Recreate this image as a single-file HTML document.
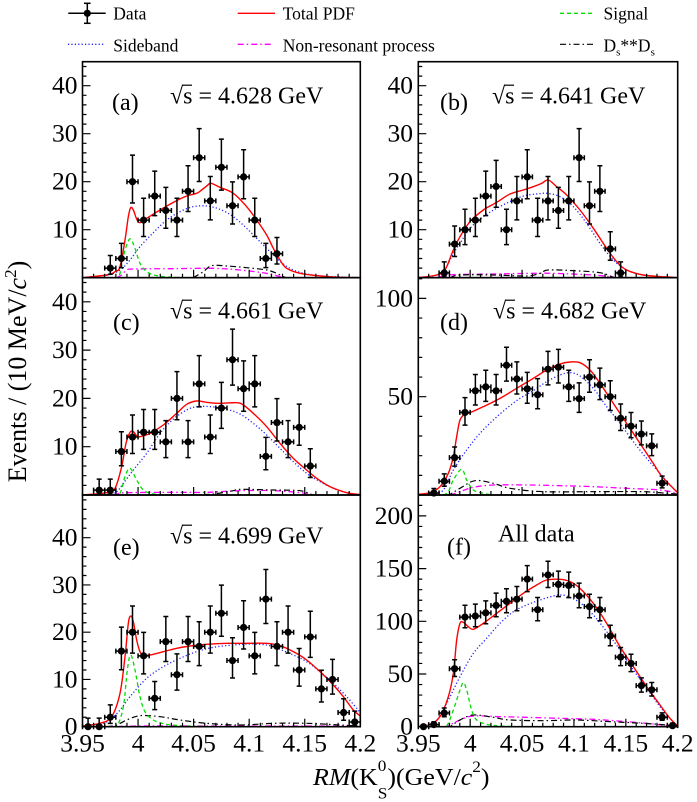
<!DOCTYPE html>
<html><head><meta charset="utf-8">
<style>
html,body{margin:0;padding:0;background:#fff;}
svg{display:block;}
text{font-family:"Liberation Serif","DejaVu Serif",serif;fill:#000;}
</style></head>
<body>
<svg id="s" xmlns="http://www.w3.org/2000/svg" width="697" height="802" viewBox="0 0 697 802">
<rect x="0" y="0" width="697" height="802" fill="#fff"/>
<defs id="defs"></defs>
<g id="g"></g>

<g stroke-width="1.5">
  <line x1="68.3" y1="13.3" x2="105.7" y2="13.3" stroke="#000"/>
  <line x1="87.3" y1="3.3" x2="87.3" y2="23.3" stroke="#000"/>
  <line x1="84" y1="3.3" x2="90.6" y2="3.3" stroke="#000"/>
  <line x1="84" y1="23.3" x2="90.6" y2="23.3" stroke="#000"/>
  <circle cx="87.3" cy="13.3" r="3.6" fill="#000" stroke="none"/>
  <line x1="237.7" y1="13.3" x2="275" y2="13.3" stroke="#ff0000" stroke-width="1.3"/>
  <line x1="560" y1="13.3" x2="594" y2="13.3" stroke="#00dd00" stroke-width="1.3" stroke-dasharray="4 3"/>
  <line x1="68" y1="44.3" x2="103.3" y2="44.3" stroke="#2020ff" stroke-width="1.3" stroke-dasharray="1.2 2.2"/>
  <line x1="237.7" y1="44.3" x2="273.3" y2="44.3" stroke="#ff00ff" stroke-width="1.3" stroke-dasharray="6 3 1.5 3"/>
  <line x1="560" y1="44.3" x2="595" y2="44.3" stroke="#000" stroke-width="1.2" stroke-dasharray="6 3 1.5 3"/>
</g>
<text x="113.3" y="19.5" font-size="17.5">Data</text>
<text x="282.7" y="19.5" font-size="17.5">Total PDF</text>
<text x="603.5" y="19.5" font-size="17.5">Signal</text>
<text x="113.3" y="51.5" font-size="17.5">Sideband</text>
<text x="282.7" y="51.5" font-size="17.5">Non-resonant process</text>
<text x="603.5" y="51.5" font-size="17.5">D<tspan font-size="11" dy="4">s</tspan><tspan dy="-4">**D</tspan><tspan font-size="11" dy="4">s</tspan></text>

<g font-size="25.5" text-anchor="end">
  <text x="77.5" y="237.7">10</text><text x="77.5" y="189.7">20</text><text x="77.5" y="141.7">30</text><text x="77.5" y="93.7">40</text>
  <text x="413" y="237.7">10</text><text x="413" y="189.7">20</text><text x="413" y="141.7">30</text><text x="413" y="93.7">40</text>
  <text x="77.5" y="454.7">10</text><text x="77.5" y="406.4">20</text><text x="77.5" y="358.1">30</text><text x="77.5" y="309.8">40</text>
  <text x="413" y="404.7">50</text><text x="413" y="306.4">100</text>
  <text x="77.5" y="734.7">0</text><text x="77.5" y="687.5">10</text><text x="77.5" y="640.2">20</text><text x="77.5" y="593">30</text><text x="77.5" y="545.7">40</text>
  <text x="413" y="734.7">0</text><text x="413" y="682">50</text><text x="413" y="629.3">100</text><text x="413" y="576.6">150</text><text x="413" y="523.9">200</text>
</g>

<g font-size="25.5" text-anchor="middle">
  <text x="82.5" y="751.5">3.95</text><text x="138.1" y="751.5">4</text><text x="193.6" y="751.5">4.05</text><text x="249.2" y="751.5">4.1</text><text x="304.7" y="751.5">4.15</text><text x="360.3" y="751.5">4.2</text>
  <text x="418.3" y="751.5">3.95</text><text x="470.2" y="751.5">4</text><text x="522.1" y="751.5">4.05</text><text x="573.9" y="751.5">4.1</text><text x="625.8" y="751.5">4.15</text><text x="677.7" y="751.5">4.2</text>
</g>

<g font-size="24">
  <text x="112" y="110">(a)</text>
  <text x="170" y="103.3">√s = 4.628 GeV</text>
  <text x="440" y="110">(b)</text>
  <text x="492" y="103.3">√s = 4.641 GeV</text>
  <text x="113" y="330">(c)</text>
  <text x="170" y="318.3">√s = 4.661 GeV</text>
  <text x="440" y="330">(d)</text>
  <text x="493" y="318.3">√s = 4.682 GeV</text>
  <text x="113" y="555">(e)</text>
  <text x="170" y="543.3">√s = 4.699 GeV</text>
  <text x="447" y="554.3">(f)</text>
  <text x="498" y="541.7">All data</text>
</g>
<g stroke="#000" stroke-width="1.2">
  <line x1="182" y1="85.2" x2="192" y2="85.2"/>
  <line x1="504" y1="85.2" x2="514" y2="85.2"/>
  <line x1="182" y1="300.2" x2="192" y2="300.2"/>
  <line x1="505" y1="300.2" x2="515" y2="300.2"/>
  <line x1="182" y1="525.2" x2="192" y2="525.2"/>
</g>

<text transform="translate(26,371.5) rotate(-90)" text-anchor="middle" font-size="26">Events / (10 MeV/<tspan font-style="italic">c</tspan><tspan font-size="17" dy="-10">2</tspan><tspan dy="10">)</tspan></text>
<text transform="translate(313,785) scale(1.08,1)" x="0" y="0" font-size="24"><tspan font-style="italic">RM</tspan>(K<tspan font-size="16" dy="-14">0</tspan><tspan font-size="16" dx="-8" dy="27.5">S</tspan><tspan dy="-13.5">)(GeV/</tspan><tspan font-style="italic">c</tspan><tspan font-size="16" dy="-13">2</tspan><tspan dy="13">)</tspan></text>
</svg>

<script>
(function(){
var NS='http://www.w3.org/2000/svg';
var g=document.getElementById('g');
var defs=document.getElementById('defs');
function mk(parent,tag,attrs){var e=document.createElementNS(NS,tag);for(var k in attrs){e.setAttribute(k,attrs[k]);}parent.appendChild(e);return e;}
var L={x0:82.5,x1:360.3}, R={x0:418.3,x1:677.7};
var rows=[[61.7,277.7],[277.7,495],[495,726.7]];
function up(n){var m=n+1;return m*Math.pow(1-1/(9*m)+1/(3*Math.sqrt(m)),3)-n;}
function lo(n){if(n<=0)return 0;return n-n*Math.pow(1-1/(9*n)-1/(3*Math.sqrt(n)),3);}
function f(v){return v.toFixed(2);}
function cr(p){
  var s='M'+f(p[0][0])+','+f(p[0][1]);
  for(var i=0;i<p.length-1;i++){
    var p0=p[i-1]||p[i],p1=p[i],p2=p[i+1],p3=p[i+2]||p[i+1];
    var c1x=p1[0]+(p2[0]-p0[0])/6,c1y=p1[1]+(p2[1]-p0[1])/6;
    var c2x=p2[0]-(p3[0]-p1[0])/6,c2y=p2[1]-(p3[1]-p1[1])/6;
    s+='C'+f(c1x)+','+f(c1y)+' '+f(c2x)+','+f(c2y)+' '+f(p2[0])+','+f(p2[1]);
  }
  return s;
}
var styles={
  green:{stroke:'#00dd00','stroke-width':'1.3','stroke-dasharray':'4 3'},
  mag:{stroke:'#ff00ff','stroke-width':'1.3','stroke-dasharray':'6 3 1.5 3'},
  blk:{stroke:'#000000','stroke-width':'1.2','stroke-dasharray':'6 3 1.5 3'},
  blue:{stroke:'#2020ff','stroke-width':'1.3','stroke-dasharray':'1.2 2.2'},
  red:{stroke:'#ff0000','stroke-width':'1.4'}
};
var panels=[
 {c:L,r:0,k:4.8,ytop:44,minor:2,major:10,start:2,o:[40,40],
  data:[2,4,20,12,17,14,12,18,25,16,23,15,21,12,4,5],
  red:[[128,713],[200,705],[225,695],[240,680],[255,600],[265,530],[272,503],[280,510],[290,537],[300,548],[320,535],[360,510],[400,487],[440,468],[470,460],[485,450],[500,438],[513,430],[540,442],[580,460],[620,500],[650,540],[680,585],[700,625],[720,660],[740,685],[780,700],[840,708],[900,712],[961,713]],
  blue:[[128,712],[200,706],[240,690],[270,660],[300,620],[340,578],[380,540],[420,515],[460,500],[500,498],[540,508],[580,530],[620,565],[660,605],[700,645],[730,672],[760,690],[800,702],[860,709],[961,713]],
  green:[[200,713],[230,713],[240,700],[250,650],[262,610],[272,597],[285,625],[300,670],[320,695],[350,707],[400,712],[450,713]],
  mag:[[230,713],[245,705],[260,690],[280,687],[400,686],[520,685],[600,690],[680,700],[720,710],[735,713]],
  blk:[[460,713],[490,695],[515,677],[560,678],[620,683],[680,690],[710,700],[730,710],[740,713]]},
 {c:R,r:0,k:4.8,ytop:44,minor:2,major:10,start:2,o:[360,40],
  data:[1,7,10,12,17,19,10,16,21,12,16,14,16,25,15,18,6,1],
  red:[[175,713],[230,705],[255,690],[280,630],[300,590],[330,545],[370,510],[410,487],[450,462],[490,450],[520,440],[545,430],[565,420],[590,440],[620,465],[660,510],[700,565],[740,625],[770,665],[800,690],[850,705],[920,711],[953,713]],
  blue:[[175,713],[220,708],[250,695],[280,640],[300,610],[330,565],[370,530],[410,505],[450,485],[490,468],[530,462],[560,460],[600,470],[640,500],[680,550],[720,610],[760,660],[800,690],[850,705],[920,711],[953,713]],
  green:null,
  mag:[[230,713],[250,708],[280,704],[400,702],[520,700],[580,700],[700,705],[750,710],[770,713]],
  blk:[[270,713],[300,705],[400,705],[500,708],[540,700],[565,690],[640,692],[720,698],[760,712],[770,713]]},
 {c:L,r:1,k:4.83,ytop:44,minor:2,major:10,start:1,o:[40,270],
  data:[1,1,9,12,13,13,11,20,11,23,12,18,28,22,23,8,15,11,14,6],
  red:[[128,675],[200,668],[225,655],[245,590],[258,520],[270,487],[280,485],[290,497],[300,500],[330,490],[370,465],[410,430],[440,403],[470,393],[500,397],[540,400],[590,398],[610,405],[640,430],[680,470],[720,520],[760,565],[800,600],[830,625],[870,650],[920,668],[961,674]],
  blue:[[200,673],[230,665],[250,640],[280,600],[320,550],[360,490],[400,447],[440,420],[470,410],[510,410],[560,418],[600,432],[640,460],[680,495],[720,535],[760,575],[800,610],[840,635],[880,655],[920,668],[961,674]],
  green:[[220,675],[240,670],[255,620],[270,595],[290,630],[310,660],[340,672],[400,675]],
  mag:[[220,675],[230,672],[260,668],[400,667],[500,667],[600,662],[700,662],[780,668],[820,675]],
  blk:[[450,675],[520,672],[580,662],[600,658],[700,660],[780,662],[810,672],[820,675]]},
 {c:R,r:1,k:1.966,ytop:110,minor:10,major:50,start:1,o:[360,270],
  data:[1,7,19,42,53,55,53,66,59,54,51,64,65,55,49,60,56,50,39,35,31,25,6],
  red:[[175,673],[210,668],[240,650],[265,610],[280,560],[290,500],[300,450],[315,432],[330,428],[370,410],[420,385],[470,355],[520,325],[560,300],[600,282],[630,276],[660,278],[690,300],[720,340],[760,400],[800,460],[840,520],[880,580],[900,612],[925,640],[953,668]],
  blue:[[175,674],[220,670],[250,660],[280,600],[320,540],[360,490],[400,450],[440,415],[480,385],[520,362],[560,335],[600,315],[630,308],[660,318],[700,355],[740,410],[780,460],[820,515],[860,565],[900,610],[930,645],[953,668]],
  green:[[250,675],[265,665],[280,630],[305,598],[320,630],[340,660],[370,670],[400,675]],
  mag:[[270,675],[280,672],[300,665],[340,652],[400,645],[500,645],[600,647],[700,650],[800,655],[900,660],[953,670]],
  blk:[[260,675],[270,673],[300,655],[345,632],[400,640],[450,655],[550,665],[700,665],[850,665],[920,670],[953,672]]},
 {c:L,r:2,k:4.725,ytop:48,minor:2,major:10,start:0,o:[40,490],
  data:[0,0,2,16,20,15,6,18,11,18,17,20,24,14,21,15,27,17,20,12,19,8,10,3,1],
  red:[[128,708],[180,700],[215,680],[240,610],[255,500],[265,400],[272,378],[280,395],[290,450],[300,485],[310,495],[330,495],[370,485],[410,475],[450,468],[500,463],[560,460],[620,460],[680,460],[720,467],[760,485],[800,510],[840,545],[880,585],[910,620],[940,660],[961,678]],
  blue:[[128,709],[180,702],[210,690],[240,660],[270,620],[320,565],[370,530],[420,505],[470,485],[520,472],[580,465],[630,462],[680,465],[720,478],[760,495],[800,515],[840,545],[880,580],[920,620],[961,668]],
  green:[[200,710],[230,708],[250,650],[262,540],[272,495],[285,540],[300,620],[315,665],[340,690],[380,703],[440,708],[500,710]],
  mag:[[230,710],[300,708],[600,708],[900,708],[961,709]],
  blk:[[200,710],[230,705],[260,690],[300,677],[360,680],[420,690],[500,700],[600,705],[700,700],[800,700],[900,705],[961,708]]},
 {c:R,r:2,k:1.054,ytop:210,minor:10,major:50,start:0,o:[360,490],
  data:[0,2,13,55,104,105,108,115,119,121,140,111,144,135,134,124,114,111,86,66,60,39,35,9,1],
  red:[[175,710],[210,703],[240,680],[265,620],[280,550],[290,450],[300,400],[310,397],[325,410],[340,418],[370,400],[410,370],[450,340],[490,310],[530,285],[560,270],[600,268],[630,275],[660,295],[700,340],[740,400],[780,470],[820,530],[860,590],[900,645],[930,685],[953,708]],
  blue:[[175,710],[200,705],[230,690],[260,640],[300,560],[340,490],[380,445],[420,400],[460,365],[500,345],[540,330],[580,318],[600,315],[620,318],[660,338],[700,375],[740,425],[780,480],[820,540],[860,595],[900,650],[930,685],[953,708]],
  green:[[240,710],[260,708],[280,660],[300,600],[310,578],[320,600],[335,660],[350,690],[380,703],[420,708],[470,710]],
  mag:[[250,710],[260,710],[300,690],[340,678],[420,680],[500,682],[600,685],[700,688],[800,695],[880,702],[930,708],[953,710]],
  blk:[[260,710],[270,710],[300,690],[340,675],[400,682],[450,690],[550,692],[650,690],[750,695],[850,700],[920,705],[953,709]]}
];
var keys=['mag','blk','green','blue','red'];
for(var pi=0;pi<panels.length;pi++){
  var P=panels[pi];
  var x0=P.c.x0,x1=P.c.x1,y0=rows[P.r][0],y1=rows[P.r][1];
  var bw=(x1-x0)/25;
  var cp=mk(defs,'clipPath',{id:'cp'+pi});
  mk(cp,'rect',{x:x0,y:y0,width:x1-x0,height:y1-y0});
  var cg=mk(g,'g',{'clip-path':'url(#cp'+pi+')',fill:'none'});
  for(var ki=0;ki<keys.length;ki++){
    var arr=P[keys[ki]]; if(!arr) continue;
    var pts=arr.map(function(q){return [P.o[0]+q[0]/3,P.o[1]+q[1]/3];});
    var at={d:cr(pts),fill:'none'}; var st=styles[keys[ki]];
    for(var sk in st) at[sk]=st[sk];
    mk(cg,'path',at);
  }
  var t='';
  for(var v=P.minor;v<=P.ytop+0.001;v+=P.minor){
    var y=y1-v*P.k; if(y<y0+0.5) continue;
    var len=(Math.abs(v%P.major)<0.001)?8:4;
    t+='M'+x0+','+f(y)+'h'+len;
  }
  for(var j=1;j<25;j++){
    var x=x0+j*bw; var l2=(j%5==0)?8:4;
    t+='M'+f(x)+','+y1+'v-'+l2;
  }
  mk(g,'path',{d:t,stroke:'#000','stroke-width':'1.2',fill:'none'});
  var e='';
  var dg=mk(g,'g',{fill:'#000'});
  for(var idx=0;idx<P.data.length;idx++){
    var n=P.data[idx], i=P.start+idx;
    var px=x0+(i+0.5)*bw, py=y1-n*P.k;
    var yu=y1-(n+up(n))*P.k, yl=y1-(n-lo(n))*P.k;
    var hx0=px-bw/2, hx1=px+bw/2;
    e+='M'+f(hx0)+','+f(py)+'H'+f(hx1);
    e+='M'+f(hx0)+','+f(py-2.5)+'v5';
    e+='M'+f(hx1)+','+f(py-2.5)+'v5';
    e+='M'+f(px)+','+f(yu)+'V'+f(Math.min(yl,y1));
    e+='M'+f(px-2.5)+','+f(yu)+'h5';
    if(n>0) e+='M'+f(px-2.5)+','+f(yl)+'h5';
    mk(dg,'circle',{cx:f(px),cy:f(py),r:'3.6'});
  }
  mk(g,'path',{d:e,stroke:'#000','stroke-width':'1.5',fill:'none'});
  mk(g,'rect',{x:x0,y:y0,width:f(x1-x0),height:f(y1-y0),fill:'none',stroke:'#000','stroke-width':'1.6'});
}
})();
</script>
</body></html>
